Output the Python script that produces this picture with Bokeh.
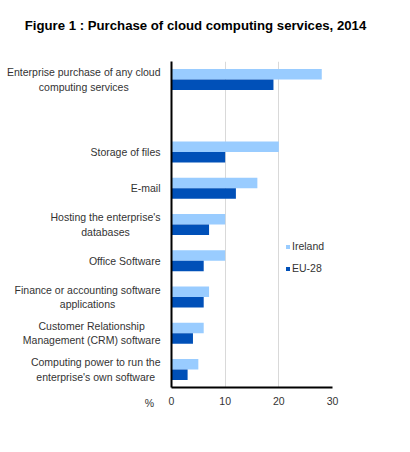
from bokeh.plotting import figure
from bokeh.layouts import column, row
from bokeh.models import Range1d, Legend, LegendItem, FixedTicker
from bokeh.core.properties import value
from bokeh.embed import file_html
from bokeh.resources import INLINE

# ---- data ----
categories = [
    "Enterprise purchase of any cloud\ncomputing services",
    "Storage of files",
    "E-mail",
    "Hosting the enterprise's\ndatabases",
    "Office Software",
    "Finance or accounting software\napplications",
    "Customer Relationship\nManagement (CRM) software",
    "Computing power to run the\nenterprise's own software",
]
ireland = [28, 20, 16, 10, 10, 7, 6, 5]
eu28 = [19, 10, 12, 7, 6, 6, 4, 3]
series_names = ["Ireland", "EU-28"]
x_ticks = [0, 10, 20, 30]
title_text = "Figure 1 : Purchase of cloud computing services, 2014"
unit_text = "%"

# ---- layout constants ----
FONT = "Liberation Sans"
LIGHT = "#99CCFF"
DARK = "#0050B8"
TEXT = "#333333"
W, H = 410, 452
TOP_H = 44            # height of title strip
LEFT_W = 161          # width of category-label panel
FRAME_TOP = 17        # main frame top inside lower row
FRAME_H = 326
FRAME_W = 161
n_rows = len(categories) + 1          # one empty row after the first category
rows = [0] + list(range(2, n_rows))   # row index of each category (top = 0)
bar_h = 0.29
low_h = H - TOP_H
BOTTOM = low_h - FRAME_TOP - FRAME_H


def style_xaxis(fig):
    fig.xaxis.axis_line_color = "black"
    fig.xaxis.axis_line_width = 2
    fig.xaxis.major_tick_line_color = None
    fig.xaxis.minor_tick_line_color = None
    fig.xaxis.major_tick_out = 0
    fig.xaxis.major_label_standoff = 9
    fig.xaxis.major_label_text_font = FONT
    fig.xaxis.major_label_text_font_size = "10.5px"
    fig.xaxis.major_label_text_color = TEXT


# ---- title strip ----
tf = figure(width=W, height=TOP_H, output_backend="svg", toolbar_location=None,
            x_range=Range1d(0, W), y_range=Range1d(TOP_H, 0), min_border=0)
tf.outline_line_color = None
tf.axis.visible = False
tf.grid.visible = False
tf.text(x=[195], y=[25], text=[title_text], text_align="center", text_baseline="middle",
        text_font=value(FONT), text_font_size="13.2px", text_font_style="bold",
        text_color="black")

# ---- main chart ----
p = figure(width=W - LEFT_W, height=low_h, output_backend="svg", toolbar_location=None,
           x_range=Range1d(0, 30), y_range=Range1d(n_rows, 0),
           min_border_left=10, min_border_right=W - LEFT_W - 10 - FRAME_W,
           min_border_top=FRAME_TOP, min_border_bottom=BOTTOM)
p.outline_line_color = None

y_ie = [r + 0.5 - bar_h / 2 for r in rows]
y_eu = [r + 0.5 + bar_h / 2 for r in rows]
r_ie = p.hbar(y=y_ie, left=0, right=ireland, height=bar_h, fill_color=LIGHT, line_color=None)
r_eu = p.hbar(y=y_eu, left=0, right=eu28, height=bar_h, fill_color=DARK, line_color=None)

p.xaxis.ticker = FixedTicker(ticks=x_ticks)
style_xaxis(p)

p.yaxis.ticker = FixedTicker(ticks=[])
p.yaxis.axis_line_color = "black"
p.yaxis.axis_line_width = 2
p.yaxis.major_tick_line_color = None
p.yaxis.minor_tick_line_color = None
p.yaxis.major_tick_out = 0
p.yaxis.major_label_standoff = 0
p.yaxis.major_label_text_font_size = "0px"

p.xgrid.grid_line_color = "#D9D9D9"
p.xgrid.grid_line_width = 1
p.ygrid.grid_line_color = None

legend = Legend(items=[LegendItem(label=series_names[0], renderers=[r_ie]),
                       LegendItem(label=series_names[1], renderers=[r_eu])],
                location=(114, 113), padding=0, margin=0, spacing=10,
                glyph_width=5, glyph_height=5, label_height=12, label_standoff=2,
                label_text_font=FONT, label_text_font_size="10.5px",
                label_text_color=TEXT, border_line_color=None,
                background_fill_alpha=0)
p.add_layout(legend)

# ---- category label panel (same row scale as the chart) ----
lf = figure(width=LEFT_W, height=low_h, output_backend="svg", toolbar_location=None,
            x_range=Range1d(0, LEFT_W), y_range=Range1d(n_rows, 0),
            min_border_left=0, min_border_right=0,
            min_border_top=FRAME_TOP, min_border_bottom=BOTTOM)
lf.outline_line_color = None
lf.grid.visible = False
lf.yaxis.visible = False
lf.xaxis.ticker = FixedTicker(ticks=[149])
lf.xaxis.major_label_overrides = {149: unit_text}
style_xaxis(lf)
lf.xaxis.axis_line_color = None
lf.text(x=[LEFT_W - 1] * len(categories), y=[r + 0.5 for r in rows], text=categories,
        anchor="center_right", text_align="center", text_baseline="middle",
        text_font=value(FONT), text_font_size="10.5px", text_color=TEXT,
        text_line_height=1.2)

layout = column(tf, row(lf, p))
open("out.html", "w").write(file_html(layout, INLINE))
